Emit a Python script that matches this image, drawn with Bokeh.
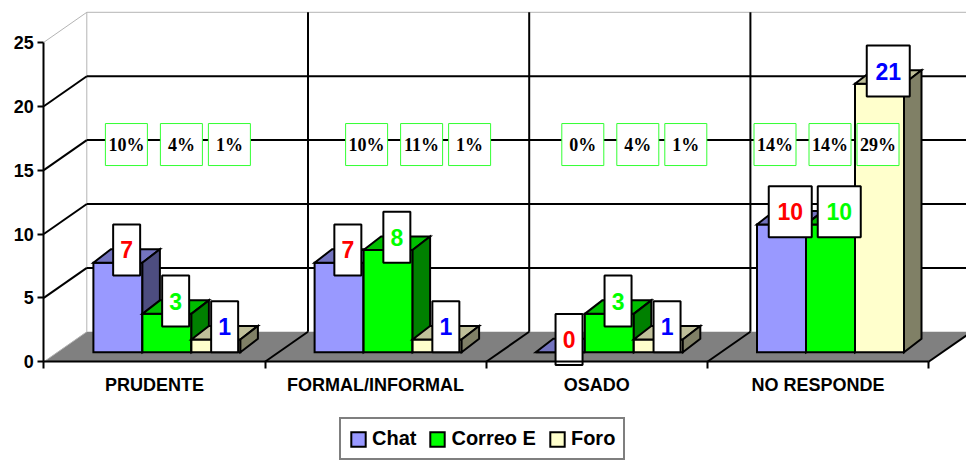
from bokeh.plotting import figure
from bokeh.models import Range1d, FixedTicker, ColumnDataSource, Legend, LegendItem, LinearAxis
from bokeh.core.properties import value
from bokeh.embed import file_html
from bokeh.resources import INLINE

# ---------------- data ----------------
categories = ["PRUDENTE", "FORMAL/INFORMAL", "OSADO", "NO RESPONDE"]
series_names = ["Chat", "Correo E", "Foro"]
chat = [7, 7, 0, 10]
correo = [3, 8, 3, 10]
foro = [1, 1, 1, 21]
chat_pct = ["10%", "10%", "0%", "14%"]
correo_pct = ["4%", "11%", "4%", "14%"]
foro_pct = ["1%", "1%", "1%", "29%"]
y_ticks = [0, 5, 10, 15, 20, 25]

# ---------------- layout / style constants ----------------
W, H = 966, 461
ORIG_X, ORIG_Y = 43.3, 361.3   # screen position of the front (0, 0) corner
PX_X = 221.2          # pixels per category
PX_Y = 12.78          # pixels per value unit
DX, DY = 43 / PX_X, 30 / PX_Y        # floor depth offset
DX0, DY0 = 12.5 / PX_X, 9.6 / PX_Y   # bar front-face depth offset
DXB, DYB = 17.5 / PX_X, 13.5 / PX_Y  # bar depth
BAR_W = 49 / PX_X
GROUP_OFF = (1 - 3 * BAR_W) / 2
Y_MAX = 25

front_col = ["#9999FF", "#00FF00", "#FFFFCC"]
top_col = ["#7373BF", "#00BF00", "#BFBF99"]
side_col = ["#4D4D80", "#008000", "#808066"]
label_col = ["#FF0000", "#00FF00", "#0000FF"]

pct_shift_px = [-28, -9, -14, -43]
pct_step_px = [0, 55, 103]
PCT_Y = 17.0

FONT = value("Liberation Sans")
SERIF = value("Liberation Serif")

p = figure(width=W, height=H,
           x_range=Range1d(-ORIG_X / PX_X, (W - ORIG_X) / PX_X),
           y_range=Range1d(-(H - ORIG_Y) / PX_Y, ORIG_Y / PX_Y),
           x_axis_type=None, y_axis_type=None,
           output_backend="svg", toolbar_location=None, min_border=0)
p.outline_line_color = None
p.background_fill_color = "white"
p.border_fill_color = "white"

# ---------------- floor ----------------
n = len(categories)
p.patch([0, n, n + DX, DX], [0, 0, DY, DY], fill_color="#808080", line_color=None)

# ---------------- walls grid ----------------
black_xs, black_ys = [], []
grey_xs, grey_ys = [], []
for v in y_ticks[1:]:
    xs_back = [DX, n + DX]
    ys_back = [v + DY, v + DY]
    xs_left = [0, DX]
    ys_left = [v, v + DY]
    if v == Y_MAX:
        grey_xs += [xs_back, xs_left]; grey_ys += [ys_back, ys_left]
    else:
        black_xs += [xs_back, xs_left]; black_ys += [ys_back, ys_left]
for k in range(1, n):
    black_xs.append([k + DX, k + DX]); black_ys.append([DY, Y_MAX + DY])
for k in range(1, n + 1):
    black_xs.append([k, k + DX]); black_ys.append([0, DY])
grey_xs.append([DX, DX]); grey_ys.append([DY, Y_MAX + DY])
grey_xs.append([0, DX]); grey_ys.append([0, DY])
p.multi_line(grey_xs, grey_ys, line_color="#B4B4B4", line_width=1)
p.multi_line(black_xs, black_ys, line_color="black", line_width=2)

# ---------------- 3D bars ----------------
series = [chat, correo, foro]
renderers = []
lab_x, lab_y, lab_t, lab_c, lab_w = [], [], [], [], []
for j, vals in enumerate(series):
    xs, ys, fc = [], [], []
    for i, v in enumerate(vals):
        x0 = i + GROUP_OFF + j * BAR_W + DX0
        x1 = x0 + BAR_W
        y0 = DY0
        y1 = DY0 + v
        xs.append([x0, x1, x1, x0]); ys.append([y0, y0, y1, y1]); fc.append(front_col[j])
        xs.append([x0, x1, x1 + DXB, x0 + DXB]); ys.append([y1, y1, y1 + DYB, y1 + DYB]); fc.append(top_col[j])
        xs.append([x1, x1 + DXB, x1 + DXB, x1]); ys.append([y0, y0 + DYB, y1 + DYB, y1]); fc.append(side_col[j])
        lab_x.append((x0 + x1) / 2 + DXB / 2)
        lab_y.append(y1 + DYB / 2 + 6 / PX_Y)
        lab_t.append(str(v))
        lab_c.append(label_col[j])
        lab_w.append(11 + 16 * len(str(v)))
    src = ColumnDataSource(dict(xs=xs, ys=ys, fc=fc))
    r = p.patches("xs", "ys", source=src, fill_color="fc", line_color="black",
                  line_width=2, line_join="miter")
    renderers.append(r)

# ---------------- percent labels ----------------
pct_series = [chat_pct, correo_pct, foro_pct]
px_, py_, pt_ = [], [], []
for i in range(n):
    for j in range(3):
        px_.append(i + 0.5 + (pct_shift_px[i] + pct_step_px[j]) / PX_X)
        py_.append(PCT_Y)
        pt_.append(pct_series[j][i])
psrc = ColumnDataSource(dict(x=px_, y=py_, t=pt_))
p.rect("x", "y", width=42, height=42, width_units="screen", height_units="screen",
       source=psrc, fill_color="white", line_color="#33FF33", line_width=1)
p.text("x", "y", text="t", source=psrc, text_font=SERIF, text_font_style="bold",
       text_font_size="18px", text_color="black", text_align="center", text_baseline="middle")

# ---------------- value labels ----------------
lsrc = ColumnDataSource(dict(x=lab_x, y=lab_y, t=lab_t, c=lab_c, w=lab_w))
p.rect("x", "y", width="w", height=51, width_units="screen", height_units="screen",
       source=lsrc, fill_color="white", line_color="black", line_width=2)
p.text("x", "y", text="t", source=lsrc, text_font=FONT, text_font_style="bold",
       text_font_size="23px", text_color="c", text_align="center", text_baseline="middle")

# ---------------- axes ----------------
yax = LinearAxis(ticker=FixedTicker(ticks=y_ticks, minor_ticks=[]), fixed_location=0,
                 bounds=(0, Y_MAX), axis_line_width=2, axis_line_color="black",
                 major_tick_out=6, major_tick_in=0, major_tick_line_width=2,
                 minor_tick_out=0, minor_tick_in=0, major_label_standoff=4,
                 major_label_text_font="Liberation Sans", major_label_text_font_style="bold",
                 major_label_text_font_size="18px", major_label_text_color="black")
p.add_layout(yax, "left")

xax = LinearAxis(ticker=FixedTicker(ticks=[i + 0.5 for i in range(n)],
                                    minor_ticks=list(range(n + 1))),
                 fixed_location=0, bounds=(0, n), axis_line_width=2, axis_line_color="black",
                 major_label_overrides={i + 0.5: c for i, c in enumerate(categories)},
                 major_tick_out=7, major_tick_in=0, major_tick_line_color=None,
                 minor_tick_out=7, minor_tick_in=0, minor_tick_line_width=2,
                 minor_tick_line_color="black", major_label_standoff=6,
                 major_label_text_font="Liberation Sans", major_label_text_font_style="bold",
                 major_label_text_font_size="18px", major_label_text_color="black")
p.add_layout(xax, "below")

# ---------------- legend ----------------
items = [LegendItem(label=series_names[j], renderers=[renderers[j]], index=0) for j in range(3)]
legend = Legend(items=items, orientation="horizontal", location=(339, 1),
                padding=8, spacing=12, label_standoff=5, glyph_width=18, glyph_height=18,
                label_text_font="Liberation Sans", label_text_font_style="bold",
                label_text_font_size="20px", label_text_color="black",
                border_line_color="black", border_line_width=2,
                background_fill_color="white", background_fill_alpha=1.0, margin=0)
p.add_layout(legend, "center")

open("out.html", "w").write(file_html(p, INLINE))
